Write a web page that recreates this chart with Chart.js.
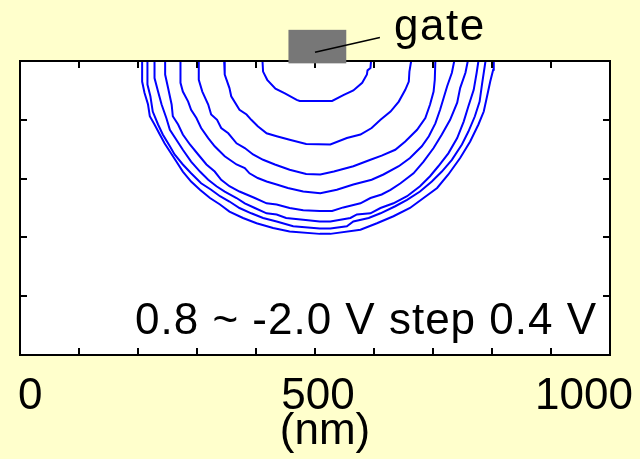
<!DOCTYPE html>
<html>
<head>
<meta charset="utf-8">
<script src="https://cdn.jsdelivr.net/npm/chart.js@4/dist/chart.umd.min.js"></script>
<style>
  html, body { margin: 0; padding: 0; background: #ffffcc; }
  #wrap { width: 640px; height: 459px; position: relative; }
</style>
</head>
<body>
<div id="wrap"><canvas id="potentialChart"></canvas></div>
<script>
// Contour levels (V), innermost to outermost
const levels = [0.8, 0.4, 0.0, -0.4, -0.8, -1.2, -1.6, -2.0];

// Contours: [x (nm), depth (nm)]
const c1 = [[411,0],[412,18],[419,32],[433,47],[449,55],[469,66],[474,68],[529,68],[548,58],[565,50],[580,37],[588,23],[589,16],[594,12],[595,0]];
const c2 = [[346,0],[347,23],[355,46],[358,60],[372,83],[384,91],[392,100],[403,111],[418,123],[435,128],[457,134],[485,141],[526,142],[554,131],[577,125],[596,114],[611,100],[628,86],[642,69],[653,49],[659,35],[660,18],[663,0]];
const c3 = [[303,0],[303,32],[309,52],[319,74],[324,91],[334,100],[341,114],[353,123],[367,140],[381,148],[395,159],[412,168],[432,176],[457,185],[485,192],[509,193],[532,188],[565,179],[594,168],[613,161],[636,151],[653,137],[673,117],[687,97],[695,74],[701,52],[703,32],[704,0]];
const c4 = [[272,0],[272,37],[276,52],[285,69],[290,83],[299,97],[307,114],[319,131],[330,145],[347,162],[367,176],[381,182],[389,191],[403,199],[418,205],[435,210],[454,216],[480,222],[509,225],[537,219],[565,210],[596,202],[616,193],[642,179],[661,165],[681,145],[693,128],[704,106],[712,83],[718,63],[724,43],[732,20],[736,0]];
const c5 = [[246,0],[246,23],[251,46],[257,74],[259,94],[268,108],[276,125],[288,142],[302,159],[316,176],[330,188],[341,202],[355,213],[372,222],[384,227],[398,233],[418,242],[435,244],[457,250],[480,254],[508,255],[529,255],[548,249],[577,242],[594,233],[613,227],[628,219],[645,208],[667,191],[684,171],[701,148],[715,125],[729,100],[741,71],[746,46],[755,20],[759,0]];
const c6 = [[228,0],[228,29],[234,52],[240,74],[248,97],[254,117],[265,134],[276,151],[290,171],[305,188],[319,202],[333,213],[347,222],[367,233],[381,242],[398,250],[418,259],[435,261],[451,267],[480,270],[508,273],[526,273],[560,267],[571,261],[594,259],[611,250],[633,242],[656,230],[678,213],[695,196],[709,179],[726,157],[741,131],[752,103],[760,77],[769,49],[774,20],[777,0]];
const c7 = [[216,0],[216,40],[221,60],[225,86],[234,108],[242,125],[254,145],[262,159],[276,176],[290,191],[307,208],[324,219],[339,230],[355,239],[372,250],[392,259],[412,267],[435,273],[463,281],[508,285],[526,285],[554,281],[565,273],[591,267],[611,259],[636,247],[656,236],[678,222],[698,205],[715,188],[732,168],[749,142],[760,120],[771,94],[779,69],[783,40],[789,0]];
const c8 = [[207,0],[207,35],[211,54],[217,74],[220,94],[228,108],[237,125],[245,140],[254,154],[265,171],[276,188],[290,205],[305,219],[322,233],[339,244],[355,256],[378,267],[401,276],[429,284],[457,290],[508,294],[526,294],[577,287],[605,276],[633,264],[661,250],[684,233],[707,216],[726,193],[746,165],[763,137],[777,108],[786,86],[791,63],[797,35],[802,15],[803,0]];
const contours = [c1, c2, c3, c4, c5, c6, c7, c8];

// Axes
const xTicks = [0, 100, 200, 300, 400, 500, 600, 700, 800, 900, 1000];
const yTicks = [0, 100, 200, 300, 400, 500];
const xLabels = ['0', '500', '1000'];
const xLabelValues = [0, 500, 1000];
const xTitle = '(nm)';
const noteText = '0.8 ~ -2.0 V step 0.4 V';

// Gate electrode (nm)
const gateX = [455, 553];
const gateY = [-53, 4];
const gateLabel = 'gate';

const FONT = '44px "Liberation Sans", Arial, sans-serif';

const decorPlugin = {
    id: 'decor',
    beforeDraw(chart) {
        const { ctx, chartArea: a } = chart;
        ctx.save();
        ctx.fillStyle = '#ffffcc';
        ctx.fillRect(0, 0, chart.width, chart.height);
        ctx.fillStyle = '#ffffff';
        ctx.fillRect(a.left, a.top, a.right - a.left, a.bottom - a.top);
        ctx.restore();
    },
    afterDraw(chart) {
        const { ctx, chartArea: a } = chart;
        const x = chart.scales.x, y = chart.scales.y;
        ctx.save();

        // frame
        ctx.strokeStyle = '#000';
        ctx.lineWidth = 2;
        ctx.strokeRect(a.left, a.top, a.right - a.left, a.bottom - a.top);

        // inward ticks on all four sides
        ctx.beginPath();
        xTicks.forEach(v => {
            const px = Math.round(x.getPixelForValue(v));
            ctx.moveTo(px, a.top); ctx.lineTo(px, a.top + 7);
            ctx.moveTo(px, a.bottom); ctx.lineTo(px, a.bottom - 7);
        });
        yTicks.forEach(v => {
            const py = Math.round(y.getPixelForValue(v));
            ctx.moveTo(a.left, py); ctx.lineTo(a.left + 7, py);
            ctx.moveTo(a.right, py); ctx.lineTo(a.right - 7, py);
        });
        ctx.stroke();

        // tick labels
        ctx.fillStyle = '#000';
        ctx.font = FONT;
        ctx.textBaseline = 'alphabetic';
        const aligns = ['left', 'center', 'right'];
        const shifts = [-2, 3, 23];
        xLabels.forEach((t, i) => {
            ctx.textAlign = aligns[i];
            ctx.fillText(t, x.getPixelForValue(xLabelValues[i]) + shifts[i], a.bottom + 54);
        });
        ctx.textAlign = 'center';
        ctx.fillText(xTitle, x.getPixelForValue(500) + 10, a.bottom + 89);

        // voltage note (slightly wider set in the original)
        ctx.letterSpacing = '1px';
        ctx.textAlign = 'left';
        ctx.fillText(noteText, 135, a.bottom - 21);

        // gate
        const gx0 = x.getPixelForValue(gateX[0]), gx1 = x.getPixelForValue(gateX[1]);
        const gy0 = y.getPixelForValue(gateY[0]), gy1 = y.getPixelForValue(gateY[1]);
        ctx.fillStyle = '#777777';
        ctx.fillRect(gx0, gy0, gx1 - gx0, gy1 - gy0);
        ctx.strokeStyle = '#000';
        ctx.lineWidth = 1.5;
        ctx.beginPath();
        ctx.moveTo(x.getPixelForValue(500), y.getPixelForValue(-15));
        ctx.lineTo(x.getPixelForValue(610), y.getPixelForValue(-40));
        ctx.stroke();
        ctx.fillStyle = '#000';
        ctx.letterSpacing = '1.5px';
        ctx.fillText(gateLabel, x.getPixelForValue(634), y.getPixelForValue(-36));

        ctx.restore();
    }
};

new Chart(document.getElementById('potentialChart'), {
    type: 'scatter',
    data: {
        datasets: contours.map((c, i) => ({
            label: levels[i].toFixed(1) + ' V',
            data: c.map(p => ({ x: p[0], y: p[1] })),
            showLine: true,
            borderColor: '#0000ff',
            borderWidth: 2,
            pointRadius: 0,
            tension: 0,
            fill: false
        }))
    },
    options: {
        responsive: true,
        maintainAspectRatio: false,
        animation: false,
        layout: { padding: { left: 20, right: 30, top: 61, bottom: 104 } },
        plugins: {
            legend: { display: false },
            tooltip: { enabled: false }
        },
        scales: {
            x: { type: 'linear', min: 0, max: 1000, display: false },
            y: { type: 'linear', min: 0, max: 500, reverse: true, display: false }
        }
    },
    plugins: [decorPlugin]
});
</script>
</body>
</html>
